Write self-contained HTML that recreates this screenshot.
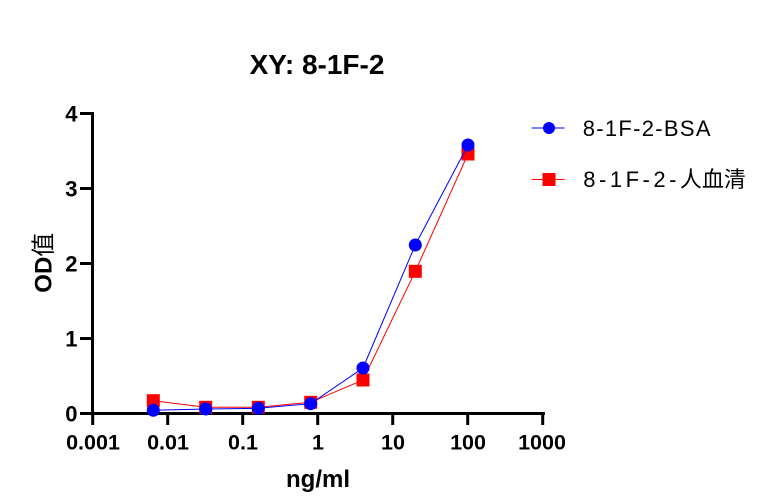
<!DOCTYPE html>
<html>
<head>
<meta charset="utf-8">
<style>
  html, body { margin: 0; padding: 0; background: #ffffff; }
  body { width: 766px; height: 498px; overflow: hidden; }
  svg { display: block; }
  text { font-family: "Liberation Sans", "Noto Sans CJK SC", sans-serif; fill: #000; }
</style>
</head>
<body>
<svg width="766" height="498" viewBox="0 0 766 498" xmlns="http://www.w3.org/2000/svg">
  <rect x="0" y="0" width="766" height="498" fill="#ffffff"/>

  <!-- Title -->
  <text x="317" y="74" font-size="28" font-weight="bold" text-anchor="middle">XY: 8-1F-2</text>

  <!-- Axes -->
  <g stroke="#000" stroke-width="3" fill="none">
    <line x1="92.5" y1="112" x2="92.5" y2="415"/>
    <line x1="91" y1="413.5" x2="545" y2="413.5"/>
    <!-- y ticks -->
    <line x1="80" y1="113.5" x2="92" y2="113.5"/>
    <line x1="80" y1="188.5" x2="92" y2="188.5"/>
    <line x1="80" y1="263.5" x2="92" y2="263.5"/>
    <line x1="80" y1="338.5" x2="92" y2="338.5"/>
    <line x1="80" y1="413.5" x2="92" y2="413.5"/>
    <!-- x ticks -->
    <line x1="92.7" y1="413" x2="92.7" y2="425"/>
    <line x1="167.7" y1="413" x2="167.7" y2="425"/>
    <line x1="242.7" y1="413" x2="242.7" y2="425"/>
    <line x1="317.7" y1="413" x2="317.7" y2="425"/>
    <line x1="392.7" y1="413" x2="392.7" y2="425"/>
    <line x1="467.7" y1="413" x2="467.7" y2="425"/>
    <line x1="542.7" y1="413" x2="542.7" y2="425"/>
  </g>

  <!-- Y tick labels -->
  <g font-size="22" font-weight="bold" text-anchor="end">
    <text x="77.5" y="121.5">4</text>
    <text x="77.5" y="196.5">3</text>
    <text x="77.5" y="271.5">2</text>
    <text x="77.5" y="346.5">1</text>
    <text x="77.5" y="421.5">0</text>
  </g>

  <!-- X tick labels -->
  <g font-size="21.5" font-weight="bold" text-anchor="middle">
    <text x="93" y="449.5">0.001</text>
    <text x="168" y="449.5">0.01</text>
    <text x="243" y="449.5">0.1</text>
    <text x="318" y="449.5">1</text>
    <text x="393" y="449.5">10</text>
    <text x="468" y="449.5">100</text>
    <text x="542" y="449.5">1000</text>
  </g>

  <!-- Axis titles -->
  <text x="318" y="487" font-size="24" font-weight="bold" text-anchor="middle">ng/ml</text>
  <text transform="translate(51.5,262.7) rotate(-90)" font-size="24" text-anchor="middle"><tspan font-weight="bold">OD</tspan><tspan>值</tspan></text>

  <!-- Red series -->
  <polyline fill="none" stroke="#ff0000" stroke-width="1"
    points="153.3,400.7 205.7,407.3 258.3,407.3 310.7,402.3 363,380 415.3,271.3 468,154"/>
  <g fill="#ff0000">
    <rect x="146.8" y="394.2" width="13" height="13"/>
    <rect x="199.2" y="400.8" width="13" height="13"/>
    <rect x="251.8" y="400.8" width="13" height="13"/>
    <rect x="304.2" y="395.8" width="13" height="13"/>
    <rect x="356.5" y="373.5" width="13" height="13"/>
    <rect x="408.8" y="264.8" width="13" height="13"/>
    <rect x="461.5" y="147.5" width="13" height="13"/>
  </g>

  <!-- Blue series -->
  <polyline fill="none" stroke="#0000ff" stroke-width="1"
    points="153.3,410.3 205.7,409 258.3,408.3 310.7,403.7 363,368 415.3,245 468,145"/>
  <g fill="#0000ff">
    <circle cx="153.3" cy="410.3" r="6.5"/>
    <circle cx="205.7" cy="409" r="6.5"/>
    <circle cx="258.3" cy="408.3" r="6.5"/>
    <circle cx="310.7" cy="403.7" r="6.5"/>
    <circle cx="363" cy="368" r="6.5"/>
    <circle cx="415.3" cy="245" r="6.5"/>
    <circle cx="468" cy="145" r="6.5"/>
  </g>

  <!-- Legend -->
  <line x1="531.7" y1="128" x2="564.5" y2="128" stroke="#0000ff" stroke-width="1"/>
  <circle cx="549" cy="128" r="6" fill="#0000ff"/>
  <text x="582.7" y="136" font-size="22" letter-spacing="1.3">8-1F-2-BSA</text>

  <line x1="531.7" y1="179.5" x2="564.5" y2="179.5" stroke="#ff0000" stroke-width="1"/>
  <rect x="542.5" y="173" width="13" height="13" fill="#ff0000"/>
  <text x="583.3" y="187" font-size="22"><tspan letter-spacing="3.5">8-1F-2-</tspan><tspan letter-spacing="0">人血清</tspan></text>
</svg>
</body>
</html>
